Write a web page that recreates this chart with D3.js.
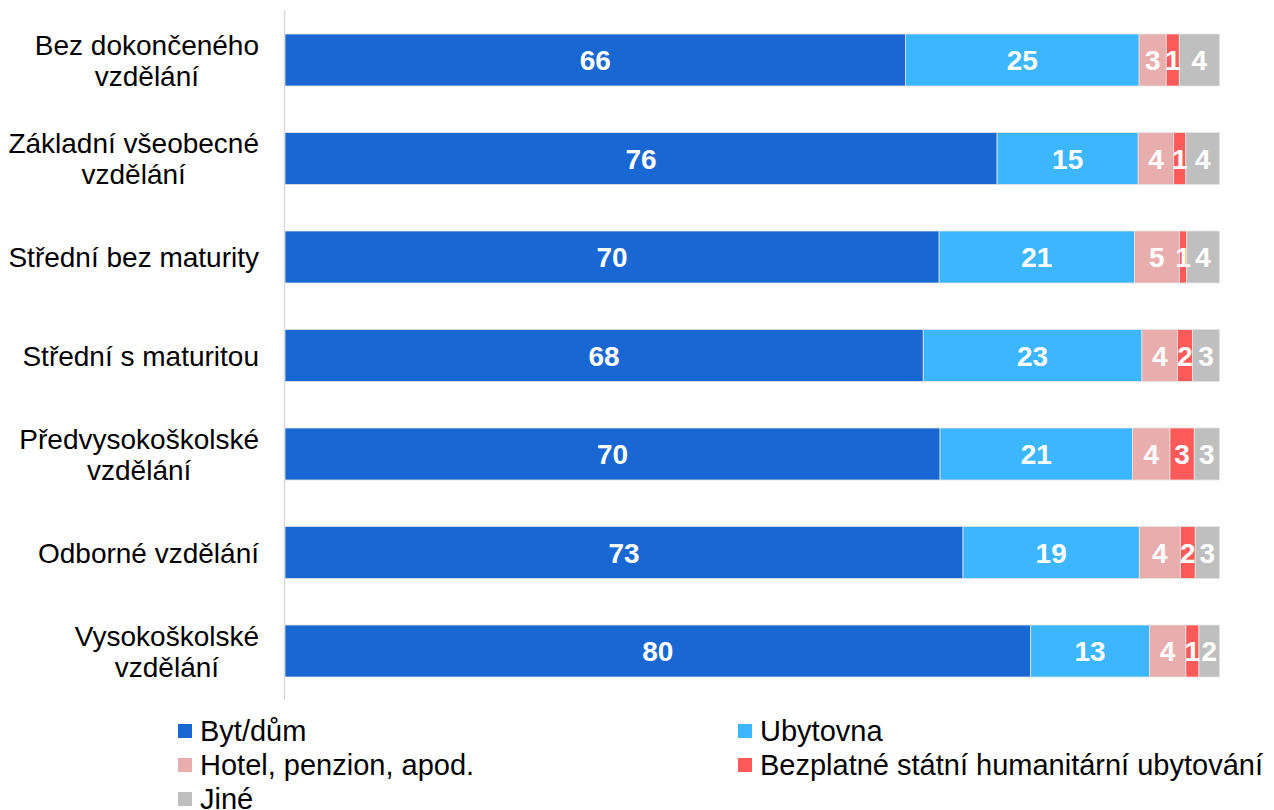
<!DOCTYPE html>
<html>
<head>
<meta charset="utf-8">
<script src="https://cdn.jsdelivr.net/npm/d3@7"></script>
<style>
  html, body { margin: 0; padding: 0; background: #fff; }
  svg { display: block; font-family: "Liberation Sans", Arial, sans-serif; }
</style>
</head>
<body>
<svg id="chart" width="1274" height="810"></svg>
<script>
const categories = [
  "Bez dokončeného\nvzdělání",
  "Základní všeobecné\nvzdělání",
  "Střední bez maturity",
  "Střední s maturitou",
  "Předvysokoškolské\nvzdělání",
  "Odborné vzdělání",
  "Vysokoškolské\nvzdělání"
];
const seriesNames = ["Byt/dům", "Ubytovna", "Hotel, penzion, apod.", "Bezplatné státní humanitární ubytování", "Jiné"];
const seriesColors = ["#1967D2", "#3BB6FF", "#E8ADAD", "#FF5A5A", "#BFBFBF"];
const bytDum     = [66.4, 76.2, 70.0, 68.3, 70.1, 72.7, 79.8];
const ubytovna   = [25.0, 15.1, 20.9, 23.4, 20.6, 18.9, 12.7];
const hotel      = [2.9, 3.8, 4.8, 3.8, 4.0, 4.4, 3.9];
const bezplatne  = [1.4, 1.3, 0.8, 1.6, 2.6, 1.6, 1.4];
const jine       = [4.3, 3.6, 3.5, 2.9, 2.7, 2.6, 2.2];

const seriesValues = [bytDum, ubytovna, hotel, bezplatne, jine];
const rows = categories.map((c, i) => {
  const r = { cat: c };
  seriesNames.forEach((s, j) => r[s] = seriesValues[j][i]);
  return r;
});

const svg = d3.select("#chart");
const x = d3.scaleLinear().domain([0, 1]).range([285, 1219.5]);
const y = d3.scaleBand().domain(categories).range([10.75, 700.25]).paddingInner(0.472).paddingOuter(0.236);

const stack = d3.stack().keys(seriesNames).offset(d3.stackOffsetExpand);
const stacked = stack(rows);

// axis line
svg.append("line")
  .attr("x1", 284.5).attr("x2", 284.5)
  .attr("y1", 10).attr("y2", 700)
  .attr("stroke", "#d9d9d9").attr("stroke-width", 1.5);

const g = svg.append("g");
stacked.forEach((layer, j) => {
  g.append("g").selectAll("rect").data(layer).join("rect")
    .attr("x", d => x(d[0]))
    .attr("width", d => x(d[1]) - x(d[0]))
    .attr("y", d => y(d.data.cat))
    .attr("height", y.bandwidth())
    .attr("fill", seriesColors[j])
    .attr("stroke", "#e4e4e4")
    .attr("stroke-width", 0.8);
});
stacked.forEach((layer, j) => {
  g.append("g").selectAll("text").data(layer).join("text")
    .attr("x", d => (x(d[0]) + x(d[1])) / 2)
    .attr("y", d => y(d.data.cat) + y.bandwidth() / 2)
    .attr("dy", "0.36em")
    .attr("text-anchor", "middle")
    .attr("fill", "#fff")
    .attr("font-weight", "bold")
    .attr("font-size", 28)
    .text(d => Math.round(d.data[seriesNames[j]]));
});

// category labels (block right-aligned, lines centered)
const rightEdge = 259;
categories.forEach(c => {
  const lines = c.split("\n");
  const cy = y(c) + y.bandwidth() / 2;
  const lh = 31;
  const t = svg.append("text")
    .attr("text-anchor", "middle")
    .attr("font-size", 28)
    .attr("fill", "#000");
  const spans = lines.map((ln, k) => t.append("tspan")
      .attr("y", cy + (k - (lines.length - 1) / 2) * lh)
      .attr("dy", "0.36em")
      .text(ln));
  const maxW = d3.max(spans, s => s.node().getComputedTextLength());
  spans.forEach(s => s.attr("x", rightEdge - maxW / 2));
});

// legend
const legendPos = [[178, 731], [738, 731], [178, 765], [738, 765], [178, 799]];
seriesNames.forEach((s, j) => {
  const [lx, ly] = legendPos[j];
  svg.append("rect").attr("x", lx).attr("y", ly - 7).attr("width", 14).attr("height", 14).attr("fill", seriesColors[j]);
  svg.append("text").attr("x", lx + 22).attr("y", ly).attr("dy", "0.36em")
    .attr("font-size", 29).attr("fill", "#000").text(s);
});
</script>
</body>
</html>
